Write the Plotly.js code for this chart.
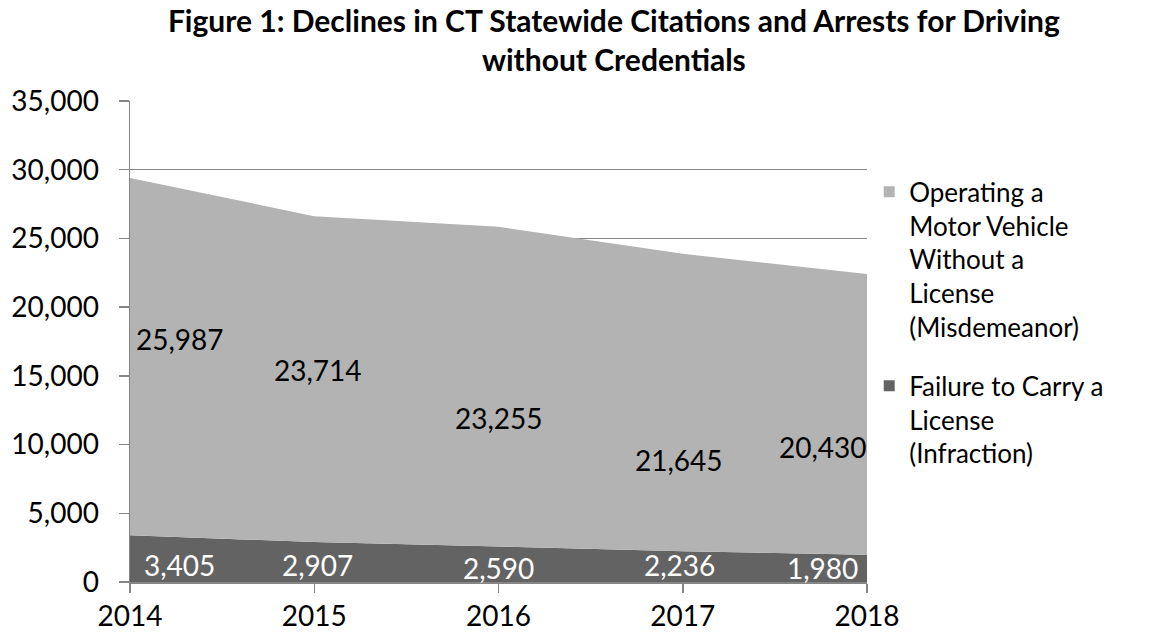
<!DOCTYPE html>
<html>
<head>
<meta charset="utf-8">
<script src="https://cdn.plot.ly/plotly-3.0.1.min.js"></script>
<style>html,body{margin:0;padding:0;background:#fff;}#chart{width:1176px;height:635px;}</style>
</head>
<body>
<div id="chart"></div>
<script>
const years = [2014, 2015, 2016, 2017, 2018];
const failureToCarry = [3405, 2907, 2590, 2236, 1980];
const operatingWithout = [25987, 23714, 23255, 21645, 20430];
const seriesNames = ["Operating a<br>Motor Vehicle<br>Without a<br>License<br>(Misdemeanor)", "Failure to Carry a<br>License<br>(Infraction)"];
const yTicks = [0, 5000, 10000, 15000, 20000, 25000, 30000, 35000];

// label placement (layout only)
const upperLabelX = [0.27, 0.02, 0.0, -0.02, -0.24];
const upperLabelY = [17700, 15450, 11950, 8900, 9850];
const lowerLabelX = [0.27, 0.02, 0.0, -0.02, -0.24];
const lowerLabelY = [1250, 1250, 1050, 1250, 1050];

const FONT = "Lato, 'Open Sans', sans-serif";
const light = "#b3b3b3", dark = "#636363";

const traces = [
  {x: years, y: failureToCarry, type: "scatter", mode: "none", stackgroup: "a", fillcolor: dark, showlegend: false, hoverinfo: "skip"},
  {x: years, y: operatingWithout, type: "scatter", mode: "none", stackgroup: "a", fillcolor: light, showlegend: false, hoverinfo: "skip"},
  {x: [null], y: [null], type: "scatter", mode: "markers", name: seriesNames[0], marker: {symbol: "square", size: 11, color: light}, legendgroup: "a"},
  {x: [null], y: [null], type: "scatter", mode: "markers", name: seriesNames[1], marker: {symbol: "square", size: 11, color: dark}, legendgroup: "b"}
];

const fmt = v => v.toLocaleString("en-US");
const annotations = [];
years.forEach((yr, i) => {
  annotations.push({x: yr + upperLabelX[i], y: upperLabelY[i], xref: "x", yref: "y", text: fmt(operatingWithout[i]), showarrow: false, font: {family: FONT, size: 28, color: "#000"}});
  annotations.push({x: yr + lowerLabelX[i], y: lowerLabelY[i], xref: "x", yref: "y", text: fmt(failureToCarry[i]), showarrow: false, font: {family: FONT, size: 28, color: "#fff"}});
});

const layout = {
  width: 1176, height: 635,
  margin: {l: 130, r: 309, t: 101, b: 53},
  paper_bgcolor: "#fff", plot_bgcolor: "#fff",
  font: {family: FONT, size: 28, color: "#000"},
  title: {text: "<b>Figure 1: Declines in CT Statewide Citations and Arrests for Driving<br>without Credentials</b>", x: 0.522, xanchor: "center", xref: "container", yref: "container", y: 0.95, yanchor: "top", font: {family: FONT, size: 30, color: "#000"}},
  xaxis: {range: [2014, 2018], tickvals: years, ticktext: years.map(String), showgrid: false, zeroline: false, showline: true, linecolor: "#868686", linewidth: 1.5, ticks: "outside", ticklen: 9, tickcolor: "#868686", tickwidth: 1.5, tickfont: {family: FONT, size: 28}, fixedrange: true},
  yaxis: {range: [0, 35000], tickvals: yTicks, ticktext: yTicks.map(fmt), showgrid: true, gridcolor: "#868686", gridwidth: 1.5, zeroline: false, showline: true, linecolor: "#868686", linewidth: 1.5, ticks: "outside", ticklen: 10, tickcolor: "#868686", tickwidth: 1.5, ticklabelstandoff: 14, tickfont: {family: FONT, size: 28}, fixedrange: true},
  legend: {x: 1.003, xanchor: "left", y: 0.86, yanchor: "top", traceorder: "grouped", tracegroupgap: 22, valign: "top", font: {family: FONT, size: 26, color: "#000"}, bgcolor: "rgba(0,0,0,0)"},
  annotations: annotations,
  showlegend: true
};

Plotly.newPlot("chart", traces, layout, {displayModeBar: false, staticPlot: true});
</script>
</body>
</html>
